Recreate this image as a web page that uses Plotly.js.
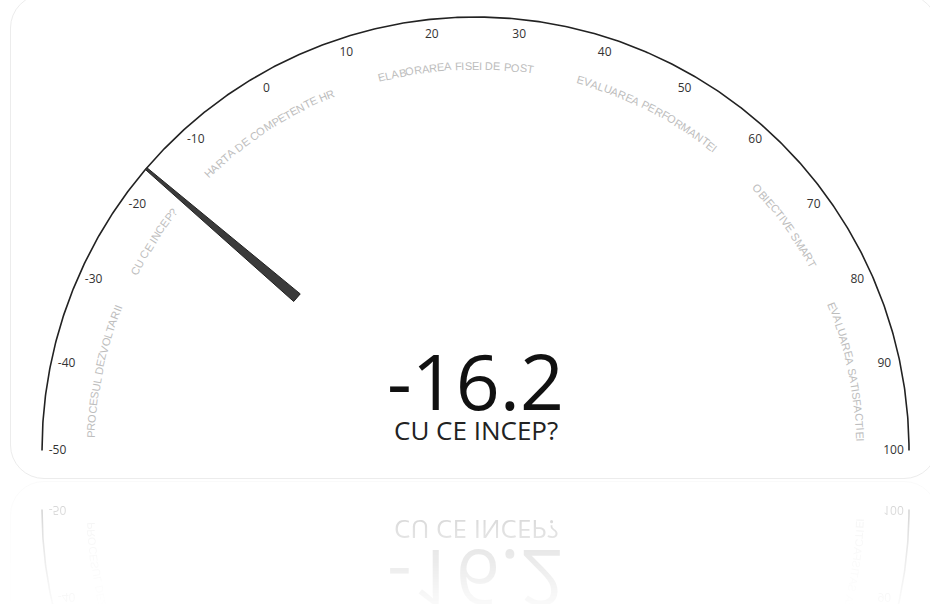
<!DOCTYPE html>
<html><head><meta charset="utf-8">
<script src="https://cdn.plot.ly/plotly-3.0.1.min.js"></script>
<style>
html,body{margin:0;padding:0;background:#fff;overflow:hidden;width:930px;height:604px;}
.wrap{position:absolute;left:0;width:930px;height:480px;overflow:hidden;background:#fff;}
#main{top:0;}
#refl{top:480px;transform:scaleY(-1);
  -webkit-mask-image:linear-gradient(to bottom, rgba(0,0,0,0) 71%, rgba(0,0,0,0.11) 87%, rgba(0,0,0,0.26) 100%);
  mask-image:linear-gradient(to bottom, rgba(0,0,0,0) 71%, rgba(0,0,0,0.11) 87%, rgba(0,0,0,0.26) 100%);}
.card{position:absolute;left:10px;top:-6px;width:928px;height:485px;border:1px solid #ececec;border-radius:34px;box-sizing:border-box;pointer-events:none;}
.chart{position:absolute;left:0;top:0;width:930px;height:480px;}
#reflimg{position:absolute;left:0;top:0;width:930px;height:480px;}
</style></head><body>
<div class="wrap" id="main"><div class="chart" id="chart"></div><div class="card"></div></div>
<div class="wrap" id="refl"><img id="reflimg" alt=""><div class="card"></div></div>
<script>
// ---- data ----
const gaugeMin = -50, gaugeMax = 100;
const tickValues = [-50, -40, -30, -20, -10, 0, 10, 20, 30, 40, 50, 60, 70, 80, 90, 100];
const tickLabels = ['-50','-40','-30','-20','-10','0','10','20','30','40','50','60','70','80','90','100'];
const bandEdges = [-50, -30, -15, 10, 35, 60, 80, 100];
const categories = ['PROCESUL DEZVOLTARII', 'CU CE INCEP?', 'HARTA DE COMPETENTE HR',
  'ELABORAREA FISEI DE POST', 'EVALUAREA PERFORMANTEI', 'OBIECTIVE SMART', 'EVALUAREA SATISFACTIEI'];
const currentValue = -16.2;
const currentLabel = 'CU CE INCEP?';

// ---- geometry (pixels -> data units with arc radius = 1) ----
const W = 930, H = 480, CX = 475.5, CY = 450.5, R = 433.5;
const rTick = 418 / R, rCat = 385 / R, rNeedleIn = 235 / R;

function theta(v) { return (v - gaugeMin) / (gaugeMax - gaugeMin) * Math.PI; }
function pt(v, r) { const t = theta(v); return [-r * Math.cos(t), r * Math.sin(t)]; }
function ptA(t, r) { return [-r * Math.cos(t), r * Math.sin(t)]; }

const traces = [];
// arc (gauge axis line)
const ax = [], ay = [];
const steps = 600;
for (let i = 0; i <= steps; i++) {
  const t = Math.PI * i / steps;
  const p = ptA(t, 1); ax.push(p[0]); ay.push(p[1]);
}
traces.push({type:'scatter', mode:'lines', x:ax, y:ay, line:{color:'#222', width:1.6}, hoverinfo:'skip', showlegend:false});

// tick labels
traces.push({type:'scatter', mode:'text',
  x: tickValues.map(v => pt(v, rTick)[0]), y: tickValues.map(v => pt(v, rTick)[1]),
  text: tickLabels, textposition:'middle center',
  textfont:{family:'Open Sans, sans-serif', size:12, color:'#333'}, hoverinfo:'skip', showlegend:false});

// needle
(function(){
  const t = theta(currentValue);
  const dx = -Math.cos(t), dy = Math.sin(t);
  const px = -dy, py = dx;
  const hwIn = 5 / R, hwOut = 1.2 / R;
  const xs = [dx*rNeedleIn + px*hwIn, dx + px*hwOut, dx - px*hwOut, dx*rNeedleIn - px*hwIn, dx*rNeedleIn + px*hwIn];
  const ys = [dy*rNeedleIn + py*hwIn, dy + py*hwOut, dy - py*hwOut, dy*rNeedleIn - py*hwIn, dy*rNeedleIn + py*hwIn];
  traces.push({type:'scatter', mode:'lines', x:xs, y:ys, fill:'toself', fillcolor:'#3b3b3b',
    line:{color:'#222', width:1}, hoverinfo:'skip', showlegend:false});
})();

// curved category labels (one rotated annotation per character)
const annotations = [];
const catFontSize = 11;
const catFamily = 'Liberation Sans, Arial, sans-serif';
const cv = document.createElement('canvas').getContext('2d');
cv.font = catFontSize + "px 'Liberation Sans', Arial, sans-serif";
const rCatPx = 385;
categories.forEach((label, i) => {
  const mid = (bandEdges[i] + bandEdges[i+1]) / 2;
  const tc = theta(mid);
  const chars = label.split('');
  const widths = chars.map(c => cv.measureText(c).width);
  const total = widths.reduce((a,b)=>a+b, 0);
  let s = -total / 2;
  chars.forEach((c, j) => {
    const sc = s + widths[j] / 2;
    s += widths[j];
    if (c === ' ') return;
    const tt = tc + sc / rCatPx;
    const p = ptA(tt, rCat);
    annotations.push({x:p[0], y:p[1], xref:'x', yref:'y', text:c, showarrow:false,
      xanchor:'center', yanchor:'middle', textangle: tt * 180 / Math.PI - 90,
      font:{family:catFamily, size:catFontSize, color:'#bdbdbd'}});
  });
});

// value and label
annotations.push({x:0, y:(CY - 380) / R, xref:'x', yref:'y', text:String(currentValue), showarrow:false,
  xanchor:'center', yanchor:'middle', font:{family:'Open Sans, sans-serif', size:77, color:'#111', weight:400}});
annotations.push({x:0, y:(CY - 430) / R, xref:'x', yref:'y', text:currentLabel, showarrow:false,
  xanchor:'center', yanchor:'middle', font:{family:'Open Sans, sans-serif', size:26, color:'#222'}});

const layout = {
  width: W, height: H, margin:{l:0, r:0, t:0, b:0},
  paper_bgcolor:'#fff', plot_bgcolor:'#fff', showlegend:false,
  xaxis:{range:[-CX / R, (W - CX) / R], visible:false, fixedrange:true},
  yaxis:{range:[(CY - H) / R, CY / R], visible:false, fixedrange:true},
  annotations: annotations
};
Plotly.newPlot('chart', traces, layout, {displayModeBar:false, staticPlot:true}).then(gd =>
  Plotly.toImage(gd, {format:'png', width:W, height:H})
).then(url => { document.getElementById('reflimg').src = url; });
</script>
</body></html>
